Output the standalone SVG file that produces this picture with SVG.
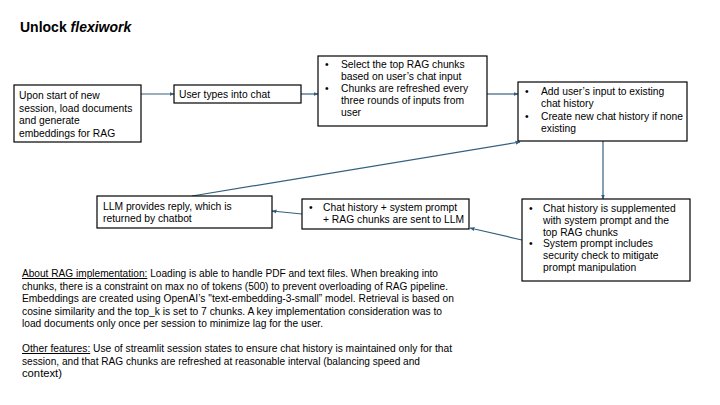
<svg xmlns="http://www.w3.org/2000/svg" width="720" height="405" viewBox="0 0 720 405">
<style>
.box{fill:#fff;stroke:#000;stroke-width:1.2}
.t{font-family:"Liberation Sans",Arial,sans-serif;font-size:10.3px;fill:#000}
.b{font-family:"Liberation Sans",Arial,sans-serif;font-size:10px;fill:#000}
.c{stroke:#34607f;stroke-width:1.2;fill:none;marker-end:url(#ah)}
.u{text-decoration:underline}
</style>
<defs>
<marker id="ah" viewBox="0 0 10 10" refX="9" refY="5" markerWidth="5" markerHeight="5" orient="auto" markerUnits="userSpaceOnUse">
<path d="M0,1 L10,5 L0,9 z" fill="#34607f"/>
</marker>
</defs>
<rect width="720" height="405" fill="#fff"/>
<text x="20" y="32" font-family="Liberation Sans,Arial,sans-serif" font-size="14" font-weight="bold">Unlock <tspan font-style="italic">flexiwork</tspan></text>

<g id="connectors">
<line class="c" x1="141" y1="94" x2="174" y2="94"/>
<line class="c" x1="301" y1="94" x2="318" y2="94"/>
<line class="c" x1="487" y1="94" x2="518" y2="94"/>
<line class="c" x1="603" y1="141" x2="603" y2="199"/>
<line class="c" x1="522" y1="240" x2="470" y2="228"/>
<line class="c" x1="302" y1="214" x2="272" y2="211"/>
<line class="c" x1="192" y1="196" x2="520" y2="142"/>
</g>

<g id="n1">
<rect class="box" x="14" y="85" width="127" height="57"/>
<text class="t" x="19" y="99">Upon start of new</text>
<text class="t" x="19" y="111.5">session, load documents</text>
<text class="t" x="19" y="124">and generate</text>
<text class="t" x="19" y="136.5">embeddings for RAG</text>
</g>

<g id="n2">
<rect class="box" x="174" y="85" width="127" height="18"/>
<text class="t" x="179" y="98">User types into chat</text>
</g>

<g id="n3">
<rect class="box" x="318" y="56" width="169" height="70"/>
<text class="t" x="325" y="68">•</text>
<text class="t" x="341" y="68">Select the top RAG chunks</text>
<text class="t" x="341" y="80">based on user’s chat input</text>
<text class="t" x="325" y="92">•</text>
<text class="t" x="341" y="92">Chunks are refreshed every</text>
<text class="t" x="341" y="104">three rounds of inputs from</text>
<text class="t" x="341" y="116">user</text>
</g>

<g id="n4">
<rect class="box" x="518" y="82" width="169" height="59"/>
<text class="t" x="525" y="95">•</text>
<text class="t" x="541" y="95">Add user’s input to existing</text>
<text class="t" x="541" y="107">chat history</text>
<text class="t" x="525" y="120">•</text>
<text class="t" x="541" y="120">Create new chat history if none</text>
<text class="t" x="541" y="132">existing</text>
</g>

<g id="n5">
<rect class="box" x="522" y="199" width="168" height="82"/>
<text class="t" x="529" y="212">•</text>
<text class="t" x="543" y="212">Chat history is supplemented</text>
<text class="t" x="543" y="224">with system prompt and the</text>
<text class="t" x="543" y="235.5">top RAG chunks</text>
<text class="t" x="529" y="247">•</text>
<text class="t" x="543" y="247">System prompt includes</text>
<text class="t" x="543" y="259">security check to mitigate</text>
<text class="t" x="543" y="271">prompt manipulation</text>
</g>

<g id="n6">
<rect class="box" x="302" y="199" width="167" height="30"/>
<text class="t" x="309" y="211">•</text>
<text class="t" x="323" y="211">Chat history + system prompt</text>
<text class="t" x="323" y="223">+ RAG chunks are sent to LLM</text>
</g>

<g id="n7">
<rect class="box" x="97" y="196" width="175" height="32"/>
<text class="t" x="103" y="210">LLM provides reply, which is</text>
<text class="t" x="103" y="221.5">returned by chatbot</text>
</g>

<g id="notes">
<text class="b" x="22" y="277" textLength="416" lengthAdjust="spacingAndGlyphs"><tspan class="u">About RAG implementation:</tspan> Loading is able to handle PDF and text files. When breaking into</text>
<text class="b" x="22" y="289.5" textLength="426" lengthAdjust="spacingAndGlyphs">chunks, there is a constraint on max no of tokens (500) to prevent overloading of RAG pipeline.</text>
<text class="b" x="22" y="302" textLength="432" lengthAdjust="spacingAndGlyphs">Embeddings are created using OpenAI’s "text-embedding-3-small” model. Retrieval is based on</text>
<text class="b" x="22" y="314.5" textLength="420" lengthAdjust="spacingAndGlyphs">cosine similarity and the top_k is set to 7 chunks. A key implementation consideration was to</text>
<text class="b" x="22" y="327" textLength="301" lengthAdjust="spacingAndGlyphs">load documents only once per session to minimize lag for the user.</text>
<text class="b" x="22" y="352" textLength="430" lengthAdjust="spacingAndGlyphs"><tspan class="u">Other features:</tspan> Use of streamlit session states to ensure chat history is maintained only for that</text>
<text class="b" x="22" y="364.5" textLength="398" lengthAdjust="spacingAndGlyphs">session, and that RAG chunks are refreshed at reasonable interval (balancing speed and</text>
<text class="b" x="22" y="377" textLength="40" lengthAdjust="spacingAndGlyphs">context)</text>
</g>
</svg>
